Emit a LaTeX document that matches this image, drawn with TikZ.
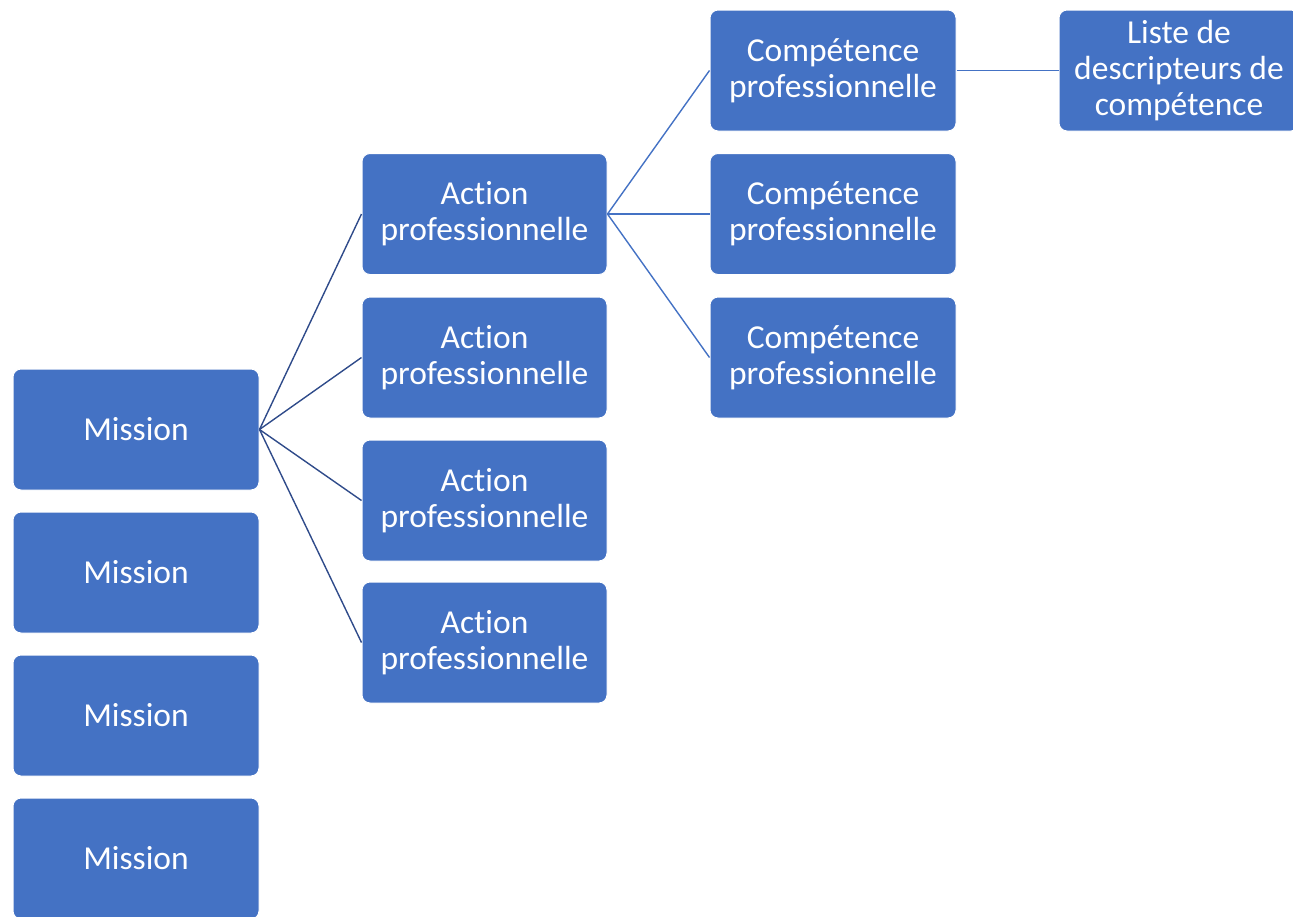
\documentclass[tikz,border=0pt]{standalone}
\usepackage{fontspec}
\setmainfont{Carlito}[Ligatures=NoCommon]
\definecolor{boxblue}{HTML}{4472C4}
\definecolor{navyline}{HTML}{2F4B8A}
\begin{document}
\begin{tikzpicture}[x=1pt,y=-1pt,
  box/.style={fill=boxblue, draw=white, line width=1pt, rounded corners=8pt,
    text=white, align=center, inner sep=0pt,
    font=\fontsize{33.5}{36}\selectfont},
  mbox/.style={box, minimum width=246pt, minimum height=121pt},
  dark/.style={draw=navyline, line width=1.4pt},
  light/.style={draw=boxblue, line width=1.4pt}]
\useasboundingbox (0,0) rectangle (1293,916);
\clip (0,0) rectangle (1293,916);
\node[mbox] (m1) at (136,429.5) {Mission};
\node[mbox] (m2) at (136,572.5) {Mission};
\node[mbox] (m3) at (136,715.5) {Mission};
\node[mbox] (m4) at (136,858.5) {Mission};
\node[mbox, minimum width=245pt] (a1) at (484.5,214) {Action\\professionnelle};
\node[mbox, minimum width=245pt] (a2) at (484.5,357.5) {Action\\professionnelle};
\node[mbox, minimum width=245pt] (a3) at (484.5,500.5) {Action\\professionnelle};
\node[mbox, minimum width=245pt] (a4) at (484.5,642.5) {Action\\professionnelle};
\node[mbox] (c1) at (833,70.5) {Compétence\\professionnelle};
\node[mbox] (c2) at (833,214) {Compétence\\professionnelle};
\node[mbox] (c3) at (833,357.5) {Compétence\\professionnelle};
\node[mbox, minimum width=240pt] (l1) at (1179,70.5) {Liste de\\descripteurs de\\compétence};
\draw[dark] (m1.east) -- (a1.west);
\draw[dark] (m1.east) -- (a2.west);
\draw[dark] (m1.east) -- (a3.west);
\draw[dark] (m1.east) -- (a4.west);
\draw[light] (a1.east) -- (c1.west);
\draw[light] (a1.east) -- (c2.west);
\draw[light] (a1.east) -- (c3.west);
\draw[light] (c1.east) -- (l1.west);
\end{tikzpicture}
\end{document}
